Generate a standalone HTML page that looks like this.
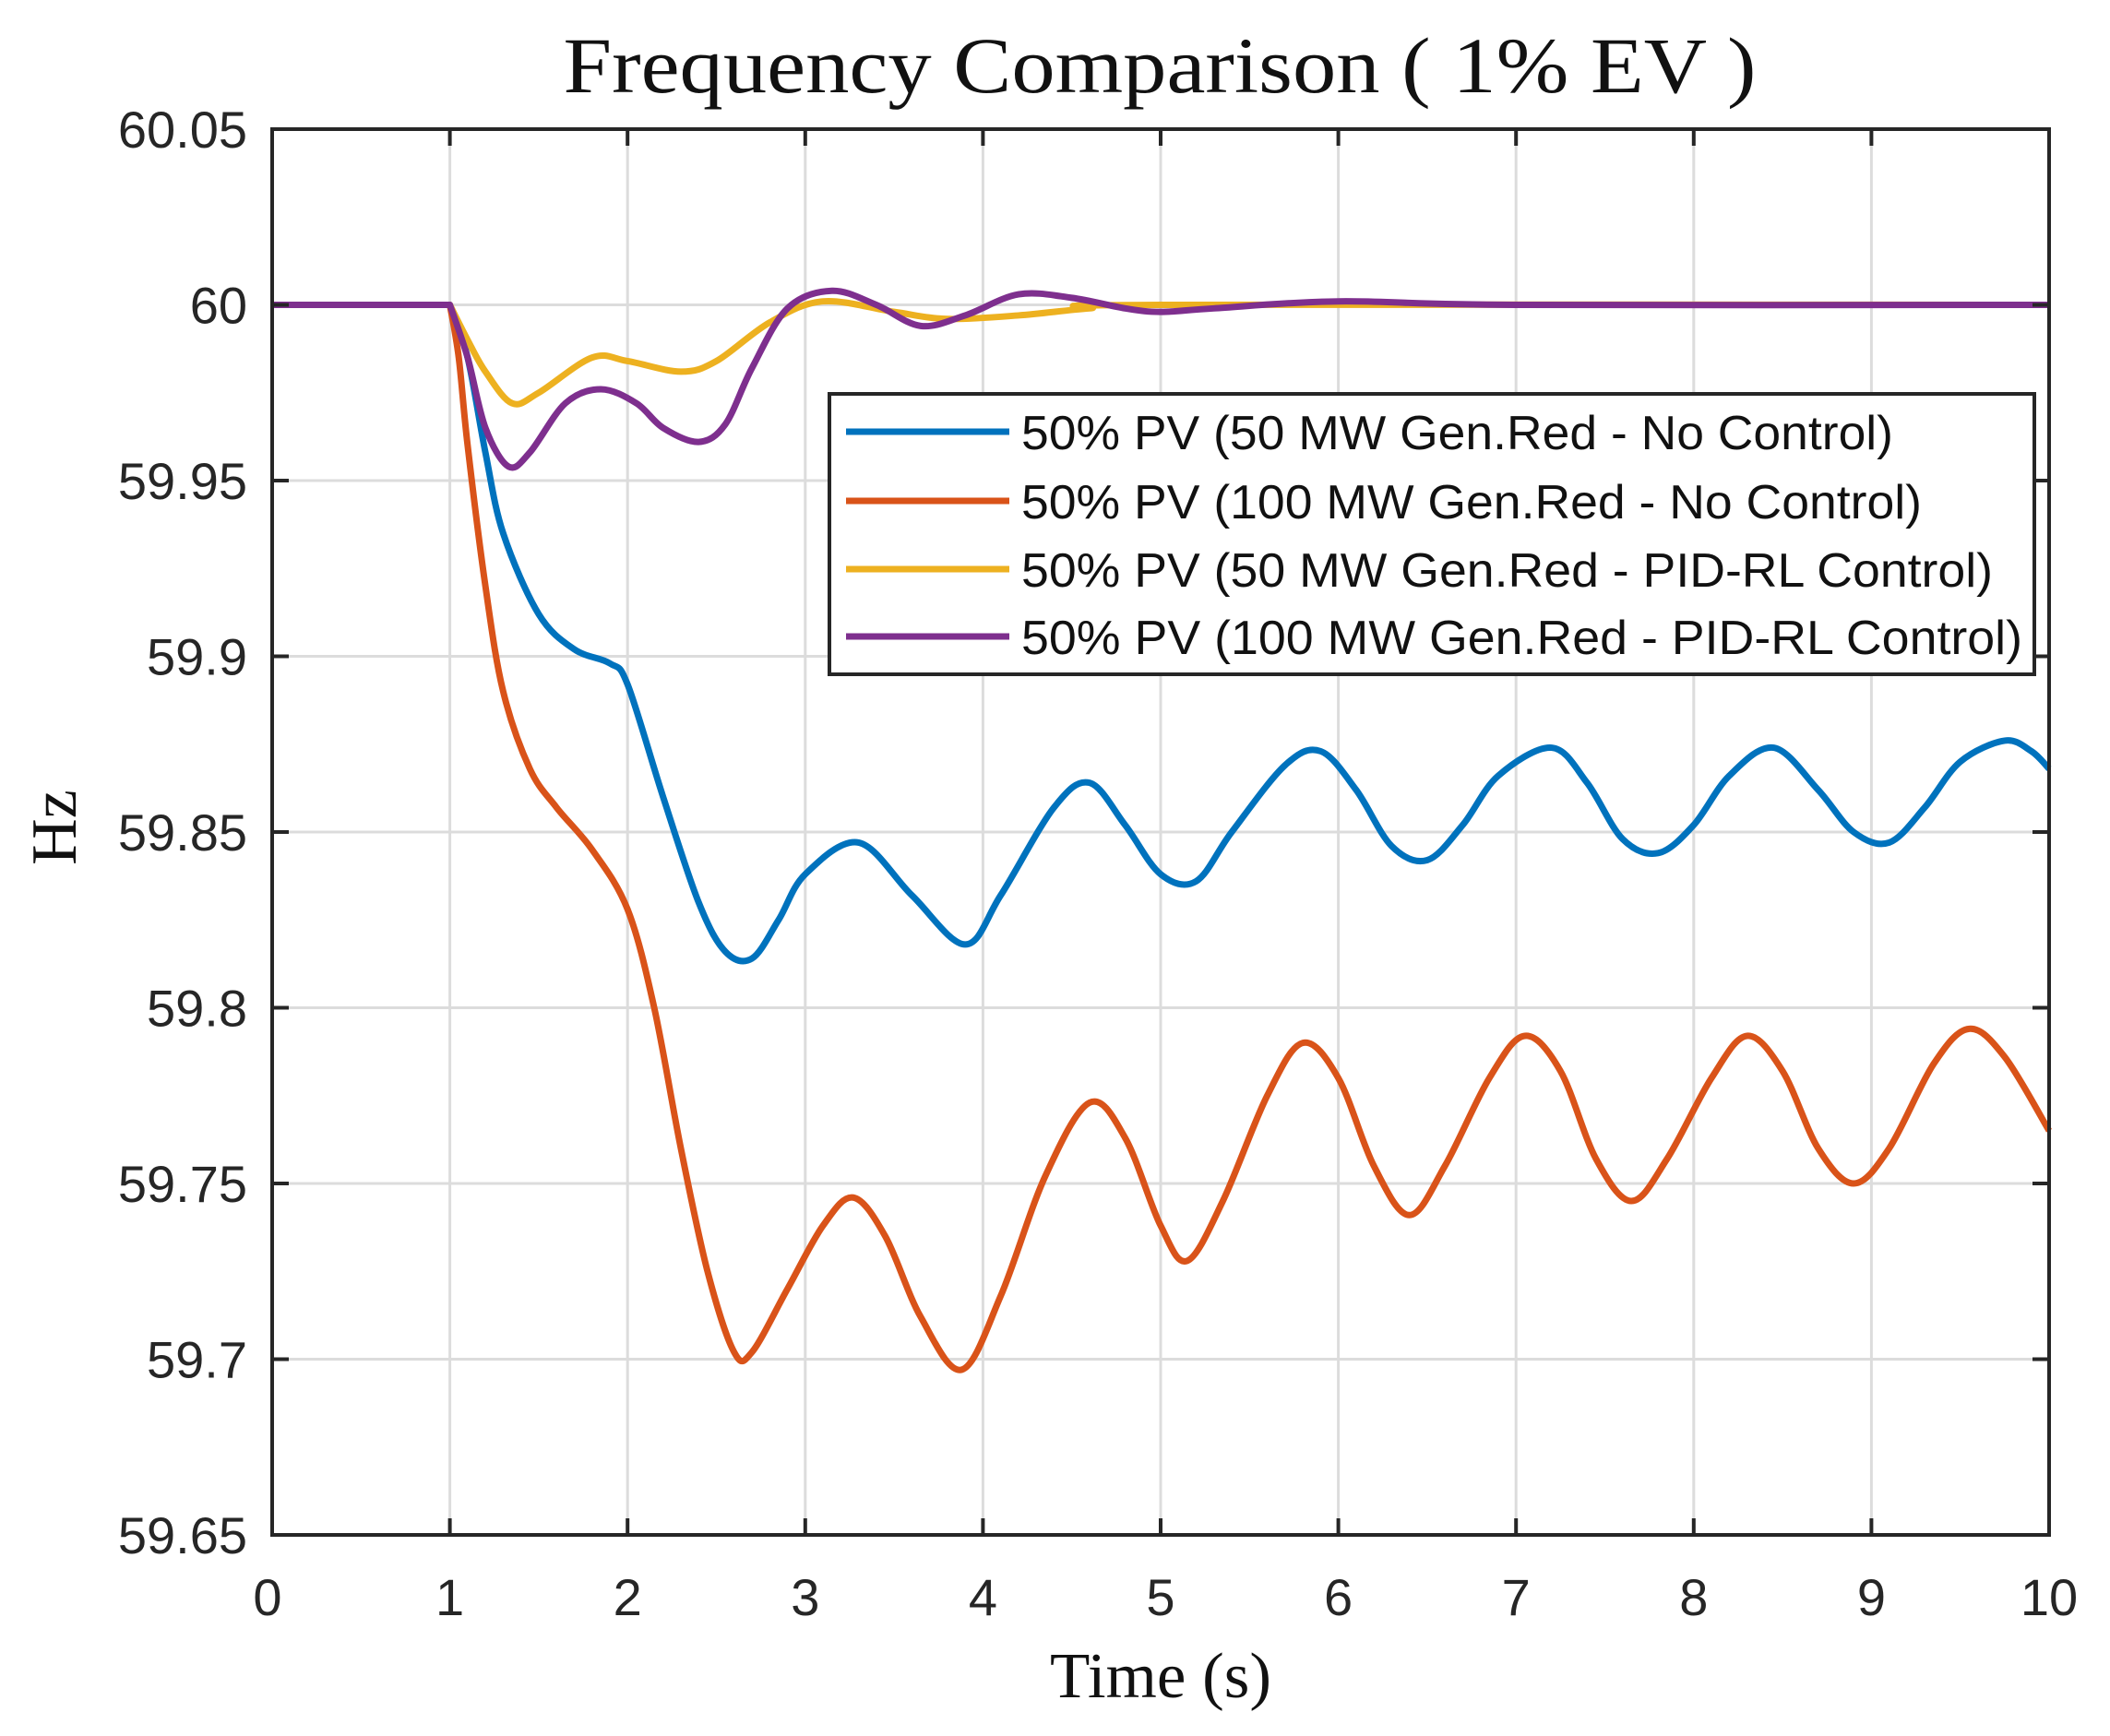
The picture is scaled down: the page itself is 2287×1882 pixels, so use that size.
<!DOCTYPE html>
<html><head><meta charset="utf-8"><style>
html,body{margin:0;padding:0;background:#fff}
svg{display:block}
</style></head><body>
<svg id="s" width="2287" height="1882" viewBox="0 0 2287 1882" xmlns="http://www.w3.org/2000/svg">
<rect width="2287" height="1882" fill="#fff"/>
<g id="grid" stroke="#dcdcdc" stroke-width="3"></g>
<g id="series" fill="none" stroke-width="7" stroke-linejoin="round"></g>
<rect x="295" y="140" width="1926" height="1524" fill="none" stroke="#262626" stroke-width="4"/>
<g id="ticks" stroke="#262626" stroke-width="4"></g>
<g font-family="Liberation Sans, Arial, sans-serif" font-size="56" fill="#262626" id="lbl"></g>
<text x="1257" y="100" font-family="Liberation Serif, serif" font-size="86" text-anchor="middle" textLength="1293" lengthAdjust="spacingAndGlyphs" fill="#111">Frequency Comparison ( 1% EV )</text>
<text x="1258" y="1840" font-family="Liberation Serif, serif" font-size="70" text-anchor="middle" textLength="240" lengthAdjust="spacingAndGlyphs" fill="#111">Time (s)</text>
<text transform="translate(82,897) rotate(-90)" font-family="Liberation Serif, serif" font-size="70" text-anchor="middle" fill="#111">Hz</text>
<rect x="899" y="427" width="1306" height="304" fill="#fff" stroke="#262626" stroke-width="4"/>
<g stroke-width="7">
<line x1="917" y1="468" x2="1094" y2="468" stroke="#0072BD"/>
<line x1="917" y1="543" x2="1094" y2="543" stroke="#D95319"/>
<line x1="917" y1="617" x2="1094" y2="617" stroke="#EDB120"/>
<line x1="917" y1="690" x2="1094" y2="690" stroke="#7E2F8E"/>
</g>
<g font-family="Liberation Sans, Arial, sans-serif" font-size="52" fill="#111">
<text x="1107" y="487" textLength="945" lengthAdjust="spacingAndGlyphs">50% PV (50 MW Gen.Red - No Control)</text>
<text x="1107" y="562" textLength="976" lengthAdjust="spacingAndGlyphs">50% PV (100 MW Gen.Red - No Control)</text>
<text x="1107" y="636" textLength="1053" lengthAdjust="spacingAndGlyphs">50% PV (50 MW Gen.Red - PID-RL Control)</text>
<text x="1107" y="709" textLength="1085" lengthAdjust="spacingAndGlyphs">50% PV (100 MW Gen.Red - PID-RL Control)</text>
</g>
</svg>
<script>
const NS="http://www.w3.org/2000/svg";
const X=t=>295+t*192.6, Y=f=>140+(60.05-f)/0.4*1524;
function el(p,tag,a){const e=document.createElementNS(NS,tag);for(const k in a)e.setAttribute(k,a[k]);document.getElementById(p).appendChild(e);return e;}
for(let t=1;t<10;t++){el('grid','line',{x1:X(t),y1:140,x2:X(t),y2:1664});}
for(let i=1;i<8;i++){const y=140+i*190.5;el('grid','line',{x1:295,y1:y,x2:2221,y2:y});}
for(let t=1;t<10;t++){el('ticks','line',{x1:X(t),y1:1664,x2:X(t),y2:1646});el('ticks','line',{x1:X(t),y1:140,x2:X(t),y2:158});}
for(let i=1;i<8;i++){const y=140+i*190.5;el('ticks','line',{x1:295,y1:y,x2:313,y2:y});el('ticks','line',{x1:2221,y1:y,x2:2203,y2:y});}
const yl=["60.05","60","59.95","59.9","59.85","59.8","59.75","59.7","59.65"];
yl.forEach((s,i)=>{const e=el('lbl','text',{x:268,y:140+i*190.5+20,'text-anchor':'end'});e.textContent=s;});
for(let t=0;t<=10;t++){const e=el('lbl','text',{x:X(t)-(t==0?5:0),y:1751,'text-anchor':'middle'});e.textContent=t;}
const D={
"#0072BD":[[1,60],[1.1,59.985],[1.2,59.958],[1.3,59.935],[1.5,59.912],[1.7,59.902],[1.9,59.898],[2,59.892],[2.2,59.86],[2.4,59.83],[2.55,59.816],[2.7,59.814],[2.85,59.825],[3,59.838],[3.3,59.847],[3.6,59.832],[3.9,59.818],[4.1,59.832],[4.4,59.857],[4.6,59.864],[4.8,59.852],[5,59.838],[5.2,59.836],[5.4,59.85],[5.7,59.869],[5.9,59.873],[6.1,59.862],[6.3,59.846],[6.5,59.842],[6.7,59.852],[6.9,59.866],[7.2,59.874],[7.4,59.864],[7.6,59.848],[7.8,59.844],[8,59.852],[8.2,59.866],[8.45,59.874],[8.7,59.862],[8.9,59.85],[9.1,59.847],[9.3,59.857],[9.5,59.87],[9.75,59.876],[9.9,59.873],[10,59.868]],
"#D95319":[[1,60],[1.05,59.985],[1.1,59.96],[1.2,59.92],[1.3,59.89],[1.45,59.868],[1.6,59.857],[1.8,59.845],[2,59.828],[2.15,59.8],[2.3,59.76],[2.45,59.725],[2.6,59.702],[2.7,59.702],[2.9,59.72],[3.1,59.738],[3.27,59.746],[3.45,59.735],[3.65,59.712],[3.88,59.697],[4.1,59.718],[4.35,59.752],[4.6,59.773],[4.8,59.763],[5,59.738],[5.15,59.728],[5.35,59.745],[5.6,59.775],[5.8,59.79],[6,59.78],[6.2,59.755],[6.4,59.741],[6.6,59.755],[6.85,59.78],[7.05,59.792],[7.25,59.782],[7.45,59.757],[7.65,59.745],[7.85,59.757],[8.1,59.78],[8.3,59.792],[8.5,59.782],[8.7,59.76],[8.9,59.75],[9.1,59.76],[9.35,59.784],[9.55,59.794],[9.75,59.786],[10,59.765]],
"#EDB120":[[1,60],[1.1,59.99],[1.2,59.981],[1.35,59.972],[1.5,59.975],[1.8,59.985],[2,59.984],[2.3,59.981],[2.5,59.984],[2.8,59.995],[3.1,60.001],[3.5,59.998],[3.8,59.996],[4.2,59.997],[4.6,59.999],[5,60],[10,60]],
"#7E2F8E":[[1,60],[1.1,59.985],[1.2,59.965],[1.33,59.954],[1.45,59.958],[1.65,59.972],[1.85,59.976],[2.05,59.972],[2.2,59.965],[2.4,59.961],[2.55,59.966],[2.7,59.982],[2.9,59.999],[3.15,60.004],[3.4,60],[3.65,59.994],[3.9,59.997],[4.2,60.003],[4.5,60.002],[4.8,59.999],[5,59.998],[5.3,59.999],[6,60.001],[7,60],[10,60]]};
for(const c in D){const p=D[c].map(([t,f])=>[X(t),Y(f)]);let d="M"+X(0)+","+Y(60)+" L"+p[0][0]+","+p[0][1];
for(let i=0;i<p.length-1;i++){const p0=p[Math.max(0,i-1)],p1=p[i],p2=p[i+1],p3=p[Math.min(p.length-1,i+2)];
const c1=[p1[0]+(p2[0]-p0[0])/6,p1[1]+(p2[1]-p0[1])/6],c2=[p2[0]-(p3[0]-p1[0])/6,p2[1]-(p3[1]-p1[1])/6];
d+=" C"+c1.join(",")+" "+c2.join(",")+" "+p2.join(",");}
el('series','path',{d:d,stroke:c});}
</script>
</body></html>
